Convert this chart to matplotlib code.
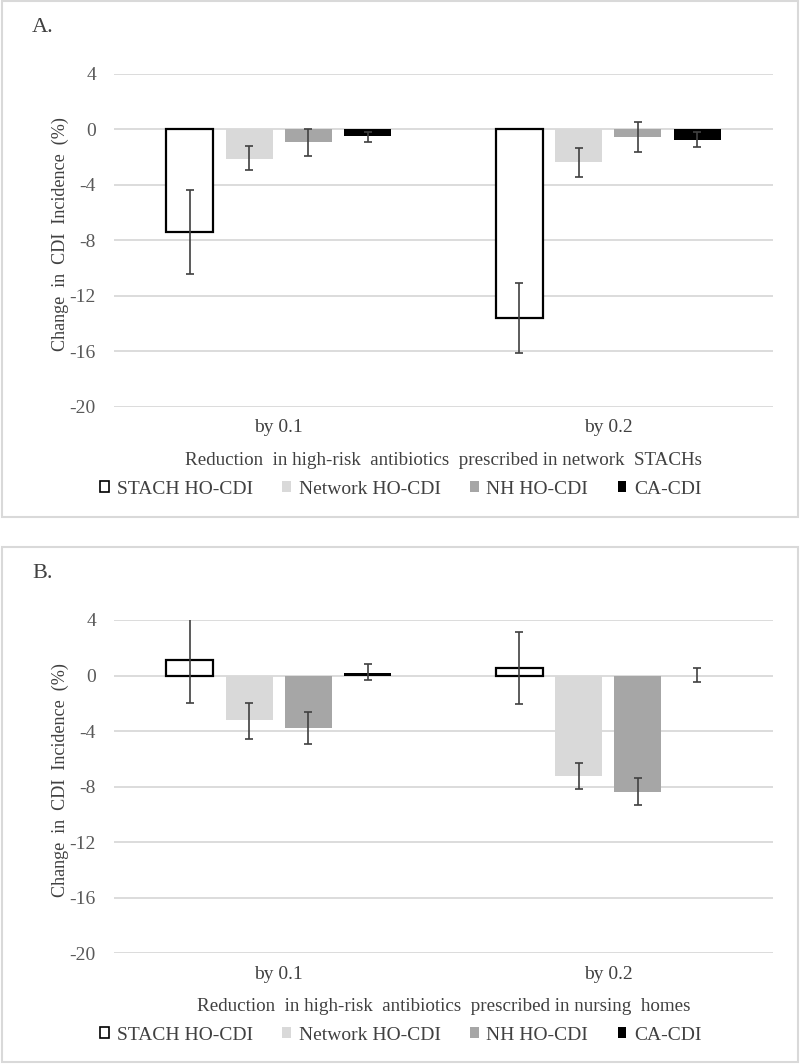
import numpy as np
import matplotlib.pyplot as plt
from matplotlib.patches import Rectangle

plt.rcParams['font.family'] = ['Liberation Serif', 'DejaVu Serif']
plt.rcParams['axes.unicode_minus'] = False

# Datos
grupos = ['by 0.1', 'by 0.2']
series = ['STACH HO-CDI', 'Network HO-CDI', 'NH HO-CDI', 'CA-CDI']
colores = ['white', '#d9d9d9', '#a6a6a6', '#000000']
bordes = ['#000000', '#d9d9d9', '#a6a6a6', '#000000']

# Panel A: reducción en STACHs
a_stach = [-7.4, -13.6]
a_stach_lo = [-10.45, -16.15]
a_stach_hi = [-4.4, -11.05]
a_network = [-2.1, -2.35]
a_network_lo = [-2.95, -3.4]
a_network_hi = [-1.2, -1.35]
a_nh = [-0.9, -0.55]
a_nh_lo = [-1.9, -1.6]
a_nh_hi = [0.0, 0.55]
a_ca = [-0.5, -0.75]
a_ca_lo = [-0.92, -1.3]
a_ca_hi = [-0.22, -0.2]

# Panel B: reducción en nursing homes
b_stach = [1.1, 0.55]
b_stach_lo = [-2.0, -2.07]
b_stach_hi = [4.1, 3.15]
b_network = [-3.2, -7.25]
b_network_lo = [-4.6, -8.2]
b_network_hi = [-1.95, -6.3]
b_nh = [-3.75, -8.4]
b_nh_lo = [-4.95, -9.35]
b_nh_hi = [-2.6, -7.4]
b_ca = [0.15, 0.0]
b_ca_lo = [-0.3, -0.45]
b_ca_hi = [0.8, 0.55]

panel_a = [(a_stach, a_stach_lo, a_stach_hi), (a_network, a_network_lo, a_network_hi),
           (a_nh, a_nh_lo, a_nh_hi), (a_ca, a_ca_lo, a_ca_hi)]
panel_b = [(b_stach, b_stach_lo, b_stach_hi), (b_network, b_network_lo, b_network_hi),
           (b_nh, b_nh_lo, b_nh_hi), (b_ca, b_ca_lo, b_ca_hi)]

W, H = 800, 1064
fig = plt.figure(figsize=(W / 100, H / 100), dpi=100)

txt = '#404040'
tick_col = '#595959'


def dibujar(ax, datos, xlabel):
    x = np.arange(len(grupos))
    ancho = 0.143
    paso = 0.18
    for i, (vals, lo, hi) in enumerate(datos):
        vals = np.array(vals)
        err = [vals - np.array(lo), np.array(hi) - vals]
        pos = x + (i - 1.5) * paso
        ax.bar(pos, vals, ancho, color=colores[i], edgecolor=bordes[i],
               linewidth=1.6 if i == 0 else 0, zorder=2, label=series[i])
        ax.errorbar(pos, vals, yerr=err, fmt='none', ecolor='#404040',
                    elinewidth=1.2, capsize=3, capthick=1.2, zorder=3)
    ax.set_xlim(-0.5, 1.5)
    ax.set_ylim(-20, 4)
    ax.set_yticks(np.arange(-20, 5, 4))
    ax.set_xticks(x)
    ax.set_xticklabels(grupos, fontsize=14, color=txt)
    ax.tick_params(axis='both', length=0)
    ax.tick_params(axis='y', labelsize=14, labelcolor=tick_col, pad=13)
    ax.tick_params(axis='x', pad=9)
    ax.grid(axis='y', color='#d9d9d9', linewidth=1.3, zorder=0)
    ax.set_axisbelow(True)
    for s in ax.spines.values():
        s.set_visible(False)
    ax.set_ylabel('Change  in  CDI  Incidence  (%)', fontsize=13.1, color=txt)
    ax.yaxis.set_label_coords(-0.069, 0.52)
    ax.set_xlabel(xlabel, fontsize=13.7, color=txt)
    ax.xaxis.set_label_coords(0.5, -0.135)


ax1 = fig.add_axes([114 / W, 1 - 406.7 / H, 659 / W, 332.7 / H])
dibujar(ax1, panel_a, 'Reduction  in high-risk  antibiotics  prescribed in network  STACHs')
ax2 = fig.add_axes([114 / W, 1 - 953.3 / H, 659 / W, 333.3 / H])
dibujar(ax2, panel_b, 'Reduction  in high-risk  antibiotics  prescribed in nursing  homes')

# Marcos de cada panel
for y0, y1 in [(1, 517), (547, 1062)]:
    fig.patches.append(Rectangle((1.5 / W, 1 - y1 / H), 796 / W, (y1 - y0) / H,
                                 transform=fig.transFigure, fill=False,
                                 edgecolor='#d9d9d9', linewidth=1.5))

fig.text(32 / W, 1 - 28 / H, 'A.', fontsize=16, color=txt, va='center')
fig.text(32 / W, 1 - 574 / H, 'B.', fontsize=16, color=txt, va='center')

handles, labels = ax1.get_legend_handles_labels()
for yc in [489, 1035]:
    leg = fig.legend(handles, labels, loc='center', bbox_to_anchor=(401 / W, 1 - yc / H),
                     ncol=4, frameon=False, fontsize=14, handlelength=0.45, handleheight=0.45,
                     handletextpad=0.4, columnspacing=1.5, labelcolor=txt)
    leg.legend_handles[0].set_linewidth(1.2)

plt.savefig('out.png', dpi=100)
